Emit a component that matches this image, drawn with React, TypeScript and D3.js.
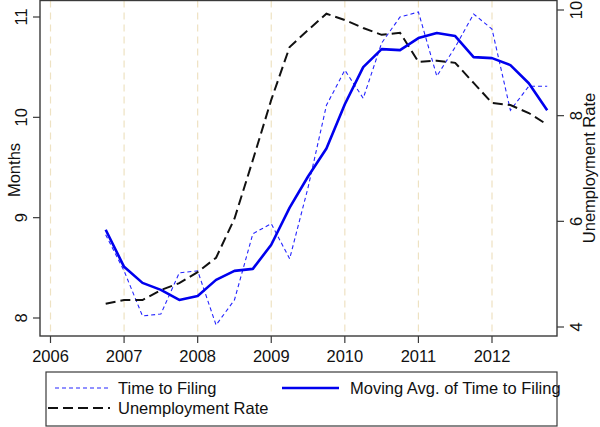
import React from "react";
import * as d3 from "d3";

const quarters = [
  2006.75, 2007, 2007.25, 2007.5, 2007.75, 2008, 2008.25, 2008.5, 2008.75,
  2009, 2009.25, 2009.5, 2009.75, 2010, 2010.25, 2010.5, 2010.75, 2011,
  2011.25, 2011.5, 2011.75, 2012, 2012.25, 2012.5, 2012.75,
];
const timeToFiling = [
  8.83, 8.47, 8.02, 8.04, 8.45, 8.47, 7.93, 8.18, 8.84, 8.94, 8.59, 9.3,
  10.12, 10.47, 10.19, 10.74, 11.0, 11.05, 10.41, 10.7, 11.03, 10.88, 10.07,
  10.31, 10.31,
];
const movingAvg = [
  8.88, 8.51, 8.35, 8.28, 8.18, 8.22, 8.38, 8.47, 8.49, 8.73, 9.1, 9.41,
  9.69, 10.13, 10.5, 10.68, 10.67, 10.79, 10.84, 10.81, 10.6, 10.59, 10.52,
  10.34, 10.07,
];
const unemployment = [
  4.44, 4.51, 4.51, 4.7, 4.83, 5.04, 5.31, 6.05, 7.16, 8.3, 9.3, 9.62, 9.93,
  9.81, 9.66, 9.53, 9.57, 9.02, 9.04, 9.0, 8.62, 8.24, 8.2, 8.05, 7.83,
];
const xTicks = [2006, 2007, 2008, 2009, 2010, 2011, 2012];
const leftTicks = [8, 9, 10, 11];
const rightTicks = [4, 6, 8, 10];
const legendLabels = [
  "Time to Filing",
  "Moving Avg. of Time to Filing",
  "Unemployment Rate",
];

const FONT = "'Liberation Sans', Arial, Helvetica, sans-serif";

export default function App() {
  const W = 600;
  const H = 427;
  const frame = { left: 40, right: 557, top: 0.5, bottom: 336 };
  const x = d3.scaleLinear().domain([2006, 2012]).range([50.5, 492]);
  const yL = d3.scaleLinear().domain([8, 11]).range([318, 17]);
  const yR = d3.scaleLinear().domain([4, 10]).range([327, 10]);

  const lineL = (vals: number[]) =>
    d3
      .line<number>()
      .x((_, i) => x(quarters[i]))
      .y((d) => yL(d))(vals) as string;
  const lineR = (vals: number[]) =>
    d3
      .line<number>()
      .x((_, i) => x(quarters[i]))
      .y((d) => yR(d))(vals) as string;

  const axisColor = "#3a3a3a";

  return (
    <svg
      width={W}
      height={H}
      style={{ position: "absolute", left: 0, top: 0, background: "#fff" }}
      fontFamily={FONT}
    >
      <rect x={0} y={0} width={W} height={H} fill="#fff" />
      {xTicks.map((t) => (
        <line
          key={"g" + t}
          x1={x(t)}
          x2={x(t)}
          y1={frame.top}
          y2={frame.bottom}
          stroke="#eee2c2"
          strokeWidth={1.2}
          strokeDasharray="7,5"
        />
      ))}
      <path
        d={lineL(timeToFiling)}
        fill="none"
        stroke="#2525ff"
        strokeWidth={1.1}
        strokeDasharray="4,3"
      />
      <path
        d={lineR(unemployment)}
        fill="none"
        stroke="#111"
        strokeWidth={2}
        strokeDasharray="10,5"
      />
      <path
        d={lineL(movingAvg)}
        fill="none"
        stroke="#0000ee"
        strokeWidth={2.6}
        strokeLinejoin="round"
      />
      <rect
        x={frame.left}
        y={frame.top}
        width={frame.right - frame.left}
        height={frame.bottom - frame.top}
        fill="none"
        stroke={axisColor}
        strokeWidth={1.4}
      />
      {xTicks.map((t) => (
        <g key={"x" + t}>
          <line
            x1={x(t)}
            x2={x(t)}
            y1={frame.bottom}
            y2={frame.bottom + 7}
            stroke={axisColor}
            strokeWidth={1.2}
          />
          <text x={x(t)} y={362} textAnchor="middle" fontSize={16.5} fill="#111">
            {t}
          </text>
        </g>
      ))}
      {leftTicks.map((t) => (
        <g key={"l" + t}>
          <line
            x1={frame.left - 7}
            x2={frame.left}
            y1={yL(t)}
            y2={yL(t)}
            stroke={axisColor}
            strokeWidth={1.2}
          />
          <text
            transform={`translate(27,${yL(t)}) rotate(-90)`}
            textAnchor="middle"
            fontSize={16.5}
            fill="#111"
          >
            {t}
          </text>
        </g>
      ))}
      <text
        transform={`translate(20,170) rotate(-90)`}
        textAnchor="middle"
        fontSize={16.5}
        fill="#111"
      >
        Months
      </text>
      {rightTicks.map((t) => (
        <g key={"r" + t}>
          <line
            x1={frame.right}
            x2={frame.right + 7}
            y1={yR(t)}
            y2={yR(t)}
            stroke={axisColor}
            strokeWidth={1.2}
          />
          <text
            transform={`translate(582,${yR(t)}) rotate(-90)`}
            textAnchor="middle"
            fontSize={16.5}
            fill="#111"
          >
            {t}
          </text>
        </g>
      ))}
      <text
        transform={`translate(595,168) rotate(-90)`}
        textAnchor="middle"
        fontSize={16.5}
        fill="#111"
      >
        Unemployment Rate
      </text>
      <rect
        x={46}
        y={372}
        width={511}
        height={54}
        fill="#fff"
        stroke={axisColor}
        strokeWidth={1.2}
      />
      <line
        x1={55}
        x2={109}
        y1={388}
        y2={388}
        stroke="#2525ff"
        strokeWidth={1.1}
        strokeDasharray="4,3"
      />
      <text x={118} y={394} fontSize={16.5} fill="#111">
        {legendLabels[0]}
      </text>
      <line
        x1={282}
        x2={339}
        y1={388}
        y2={388}
        stroke="#0000ee"
        strokeWidth={2.6}
      />
      <text x={350} y={394} fontSize={16.5} fill="#111">
        {legendLabels[1]}
      </text>
      <line
        x1={48}
        x2={110}
        y1={408}
        y2={408}
        stroke="#111"
        strokeWidth={2}
        strokeDasharray="10,5"
      />
      <text x={118} y={414} fontSize={16.5} fill="#111">
        {legendLabels[2]}
      </text>
    </svg>
  );
}
